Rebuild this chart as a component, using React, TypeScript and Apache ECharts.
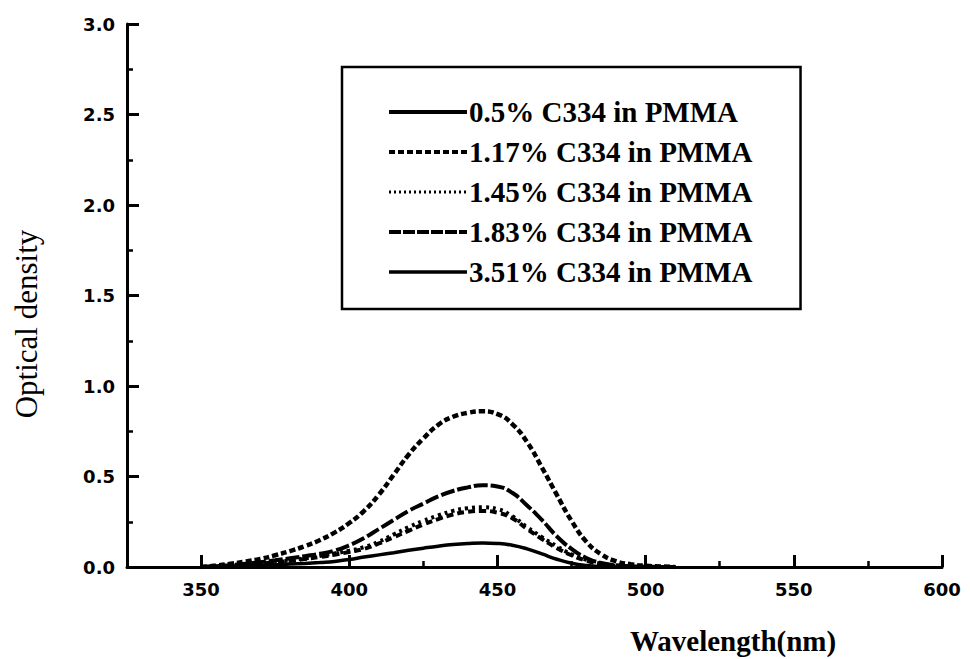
import React, { useEffect, useRef } from "react";
import * as echarts from "echarts";

const wavelengths = [350, 355, 360, 365, 370, 375, 380, 385, 390, 395, 400, 405, 410, 415, 420, 425, 430, 435, 440, 445, 450, 455, 460, 465, 470, 475, 480, 485, 490, 495, 500, 505, 510];

const od050 = [0, 0.001, 0.003, 0.005, 0.008, 0.012, 0.016, 0.02, 0.025, 0.031, 0.042, 0.055, 0.067, 0.079, 0.092, 0.104, 0.115, 0.124, 0.13, 0.133, 0.13, 0.12, 0.1, 0.072, 0.043, 0.021, 0.008, 0.002, 0, 0, 0, 0, 0];
const od117 = [0, 0.003, 0.006, 0.011, 0.018, 0.026, 0.034, 0.044, 0.055, 0.068, 0.083, 0.1, 0.13, 0.165, 0.2, 0.235, 0.265, 0.29, 0.305, 0.31, 0.3, 0.27, 0.21, 0.155, 0.105, 0.065, 0.035, 0.016, 0.007, 0.002, 0, 0, 0];
const od145 = [0, 0.003, 0.006, 0.012, 0.02, 0.028, 0.037, 0.048, 0.06, 0.075, 0.09, 0.11, 0.14, 0.18, 0.22, 0.255, 0.285, 0.31, 0.325, 0.33, 0.32, 0.28, 0.22, 0.165, 0.115, 0.07, 0.04, 0.018, 0.008, 0.003, 0, 0, 0];
const od183 = [0, 0.005, 0.01, 0.018, 0.027, 0.037, 0.048, 0.06, 0.073, 0.09, 0.12, 0.16, 0.21, 0.26, 0.31, 0.35, 0.39, 0.42, 0.44, 0.452, 0.445, 0.41, 0.34, 0.26, 0.17, 0.1, 0.05, 0.022, 0.01, 0.004, 0.002, 0, 0];
const od351 = [0, 0.008, 0.018, 0.03, 0.045, 0.065, 0.088, 0.115, 0.148, 0.19, 0.243, 0.31, 0.4, 0.51, 0.62, 0.71, 0.785, 0.83, 0.852, 0.86, 0.845, 0.79, 0.69, 0.55, 0.4, 0.255, 0.14, 0.07, 0.032, 0.015, 0.007, 0.003, 0];

const seriesNames = [
  "0.5% C334 in PMMA",
  "1.17% C334 in PMMA",
  "1.45% C334 in PMMA",
  "1.83% C334 in PMMA",
  "3.51% C334 in PMMA",
];

const xMajorTicks = [350, 400, 450, 500, 550, 600];
const xMinorTicks = [375, 425, 475, 525, 575];

const xTitle = "Wavelength(nm)";
const yTitle = "Optical density";

export default function App() {
  const ref = useRef<HTMLDivElement>(null);

  useEffect(() => {
    if (!ref.current) return;
    const chart = echarts.init(ref.current, null, { renderer: "svg" });

    const pair = (ys: number[]) => wavelengths.map((x, i) => [x, ys[i]]);
    const allData = [od050, od117, od145, od183, od351];
    const plotStyles: any[] = [
      { width: 3.5, type: "solid" },
      { width: 4, type: [7, 4] },
      { width: 4, type: [3, 4] },
      { width: 4, type: [14, 3] },
      { width: 4.5, type: [6, 3] },
    ];
    const legendStyles: any[] = [
      { width: 4, type: "solid", color: "#000" },
      { width: 4, type: [6, 3], color: "#000" },
      { width: 3, type: [2, 3], color: "#000" },
      { width: 4, type: [12, 2], color: "#000" },
      { width: 3.5, type: "solid", color: "#000" },
    ];

    const tickFont = {
      fontFamily: "DejaVu Sans",
      fontWeight: "bold" as const,
      fontSize: 18,
      color: "#000",
    };

    chart.setOption({
      animation: false,
      backgroundColor: "#fff",
      grid: { left: 127, right: 28, top: 24, bottom: 92, containLabel: false },
      xAxis: [
        {
          type: "value",
          position: "bottom",
          min: 325,
          max: 600,
          axisLine: { show: true, onZero: false, lineStyle: { color: "#000", width: 3 } },
          axisTick: {
            show: true,
            inside: true,
            length: 12,
            lineStyle: { color: "#000", width: 3 },
            customValues: xMajorTicks,
          },
          axisLabel: { ...tickFont, margin: 13, customValues: xMajorTicks },
          splitLine: { show: false },
        },
        {
          type: "value",
          position: "bottom",
          min: 325,
          max: 600,
          axisLine: { show: false, onZero: false },
          axisTick: {
            show: true,
            inside: true,
            length: 6,
            lineStyle: { color: "#000", width: 2.5 },
            customValues: xMinorTicks,
          },
          axisLabel: { show: false },
          splitLine: { show: false },
        },
      ],
      yAxis: {
        type: "value",
        min: 0,
        max: 3,
        interval: 0.5,
        axisLine: { show: true, onZero: false, lineStyle: { color: "#000", width: 3 } },
        axisTick: { show: true, inside: true, length: 12, lineStyle: { color: "#000", width: 3 } },
        minorTick: { show: true, splitNumber: 2, length: 6, lineStyle: { color: "#000", width: 2.5 } },
        axisLabel: { ...tickFont, margin: 12, formatter: (v: number) => v.toFixed(1) },
        splitLine: { show: false },
      },
      legend: {
        show: true,
        orient: "vertical",
        left: 342,
        top: 67,
        padding: [30, 48, 22, 45],
        borderColor: "#000",
        borderWidth: 2.5,
        borderRadius: 0,
        backgroundColor: "#fff",
        itemWidth: 78,
        itemHeight: 14,
        itemGap: 10,
        selectedMode: false,
        itemStyle: { opacity: 0 },
        textStyle: {
          fontFamily: "Liberation Serif",
          fontWeight: "bold",
          fontSize: 29,
          lineHeight: 30,
          color: "#000",
          padding: [0, 0, 0, -3],
        },
        data: seriesNames.map((n, i) => ({ name: n, lineStyle: legendStyles[i], itemStyle: { opacity: 0 } })),
      },
      series: allData.map((ys, i) => ({
        name: seriesNames[i],
        type: "line",
        xAxisIndex: 0,
        yAxisIndex: 0,
        data: pair(ys),
        smooth: 0.5,
        showSymbol: false,
        symbol: "none",
        lineStyle: { color: "#000", cap: "butt", ...plotStyles[i] },
        itemStyle: { color: "#000" },
        z: 3,
      })),
      graphic: [
        {
          type: "text",
          x: 26,
          y: 324,
          rotation: Math.PI / 2,
          style: {
            text: yTitle,
            fontFamily: "Liberation Serif",
            fontSize: 31,
            fill: "#000",
            align: "center",
            verticalAlign: "middle",
          },
        },
        {
          type: "text",
          x: 733,
          y: 641,
          style: {
            text: xTitle,
            fontFamily: "Liberation Serif",
            fontWeight: "bold",
            fontSize: 29,
            fill: "#000",
            align: "center",
            verticalAlign: "middle",
          },
        },
      ],
    });

    return () => chart.dispose();
  }, []);

  return (
    <div
      ref={ref}
      style={{ position: "fixed", left: 0, top: 0, width: 970, height: 659, background: "#fff" }}
    />
  );
}
